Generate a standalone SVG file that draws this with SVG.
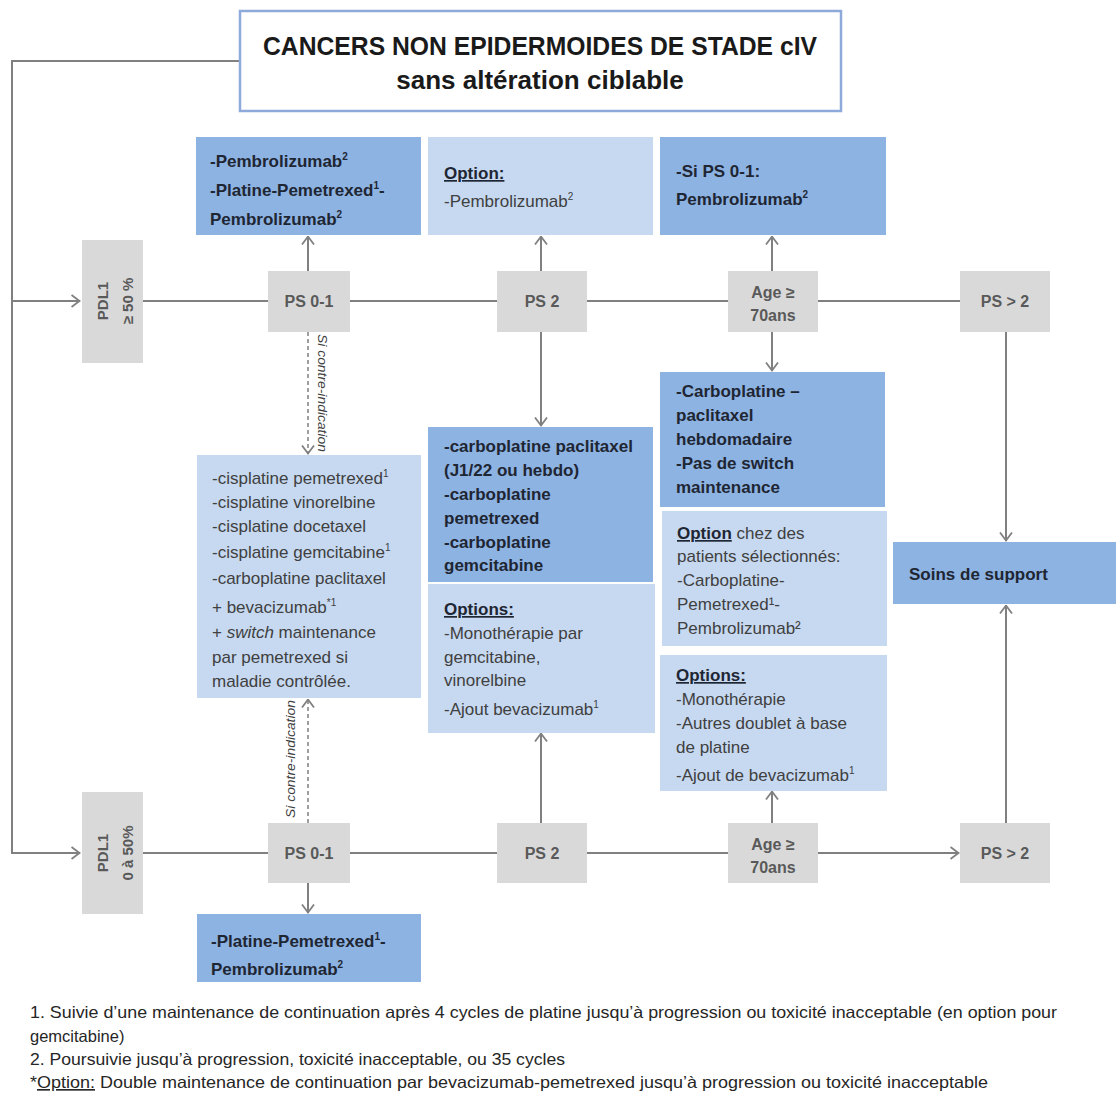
<svg xmlns="http://www.w3.org/2000/svg" width="1116" height="1096" viewBox="0 0 1116 1096">
<style>
text{font-family:"Liberation Sans",Arial,sans-serif}
.gray{fill:#d9d9d9}
.dark{fill:#8db3e2}
.light{fill:#c6d9f1}
.gt{font-weight:bold;font-size:16px;fill:#595959;text-anchor:middle}
.pt{font-weight:bold;font-size:15px;fill:#595959;text-anchor:middle}
.bt{font-weight:bold;font-size:17px;fill:#1f2633}
.rt{font-size:17px;fill:#404040}
.u{text-decoration:underline}
.ln{stroke:#808080;stroke-width:2;fill:none}
.dash{stroke:#808080;stroke-width:1.5;stroke-dasharray:4 3;fill:none}
.lab{font-size:13px;font-style:italic;fill:#404040}
.fn{font-size:16.5px;fill:#262626}
</style>
<defs>
<marker id="ah" viewBox="0 0 10 14" refX="9.5" refY="7" markerWidth="10" markerHeight="14" markerUnits="userSpaceOnUse" orient="auto">
<path d="M1,1 L9,7 L1,13" fill="none" stroke="#808080" stroke-width="1.8"/>
</marker>
</defs>

<g id="connectors">
<path class="ln" d="M240,61 H12 V853 H80" marker-end="url(#ah)"/>
<path class="ln" d="M12,301 H80" marker-end="url(#ah)"/>
<path class="ln" d="M143,301 H268 M350,301 H497 M587,301 H728 M818,301 H960"/>
<path class="ln" d="M143,853 H268 M350,853 H497 M587,853 H728"/>
<path class="ln" d="M818,853 H959" marker-end="url(#ah)"/>
<path class="ln" d="M308,271 V236" marker-end="url(#ah)"/>
<path class="ln" d="M541,271 V236" marker-end="url(#ah)"/>
<path class="ln" d="M772,271 V236" marker-end="url(#ah)"/>
<path class="ln" d="M772,332 V371" marker-end="url(#ah)"/>
<path class="ln" d="M541,332 V426" marker-end="url(#ah)"/>
<path class="dash" d="M308,332 V454" marker-end="url(#ah)"/>
<path class="ln" d="M1006,332 V541" marker-end="url(#ah)"/>
<path class="dash" d="M308,823 V699" marker-end="url(#ah)"/>
<path class="ln" d="M308,883 V913" marker-end="url(#ah)"/>
<path class="ln" d="M541,823 V733" marker-end="url(#ah)"/>
<path class="ln" d="M772,823 V791" marker-end="url(#ah)"/>
<path class="ln" d="M1006,823 V605" marker-end="url(#ah)"/>
<text class="lab" transform="translate(318,334) rotate(90)" textLength="118" lengthAdjust="spacingAndGlyphs">Si contre-indication</text>
<text class="lab" transform="translate(295,818) rotate(-90)" textLength="118" lengthAdjust="spacingAndGlyphs">Si contre-indication</text>
</g>

<g id="title">
<rect x="240" y="11" width="601" height="100" fill="#ffffff" stroke="#8eaadb" stroke-width="2.5"/>
<text x="540" y="55" text-anchor="middle" font-weight="bold" font-size="26" fill="#1a1a1a" textLength="554" lengthAdjust="spacingAndGlyphs">CANCERS NON EPIDERMOIDES DE STADE cIV</text>
<text x="540" y="89" text-anchor="middle" font-weight="bold" font-size="26" fill="#1a1a1a">sans altération ciblable</text>
</g>

<g id="pdl1-high">
<rect class="gray" x="82" y="240" width="61" height="123"/>
<text class="pt" transform="translate(108,301) rotate(-90)">PDL1</text>
<text class="pt" transform="translate(133,301) rotate(-90)">≥ 50 %</text>
</g>
<g id="pdl1-low">
<rect class="gray" x="82" y="792" width="61" height="122"/>
<text class="pt" transform="translate(108,853) rotate(-90)">PDL1</text>
<text class="pt" transform="translate(133,853) rotate(-90)">0 à 50%</text>
</g>

<g id="ps01-high"><rect class="gray" x="268" y="271" width="82" height="61"/><text class="gt" x="309" y="307">PS 0-1</text></g>
<g id="ps2-high"><rect class="gray" x="497" y="271" width="90" height="61"/><text class="gt" x="542" y="307">PS 2</text></g>
<g id="age-high"><rect class="gray" x="728" y="271" width="90" height="61"/><text class="gt" x="773" y="298">Age ≥</text><text class="gt" x="773" y="321">70ans</text></g>
<g id="ps3-high"><rect class="gray" x="960" y="271" width="90" height="61"/><text class="gt" x="1005" y="307">PS &gt; 2</text></g>

<g id="ps01-low"><rect class="gray" x="268" y="823" width="82" height="60"/><text class="gt" x="309" y="859">PS 0-1</text></g>
<g id="ps2-low"><rect class="gray" x="497" y="823" width="90" height="60"/><text class="gt" x="542" y="859">PS 2</text></g>
<g id="age-low"><rect class="gray" x="728" y="823" width="90" height="60"/><text class="gt" x="773" y="850">Age ≥</text><text class="gt" x="773" y="873">70ans</text></g>
<g id="ps3-low"><rect class="gray" x="960" y="823" width="90" height="60"/><text class="gt" x="1005" y="859">PS &gt; 2</text></g>

<g id="box-pembro">
<rect class="dark" x="196" y="137" width="225" height="98"/>
<text class="bt" x="210" y="167">-Pembrolizumab<tspan dy="-7" font-size="10">2</tspan></text>
<text class="bt" x="210" y="196">-Platine-Pemetrexed<tspan dy="-7" font-size="10">1</tspan><tspan dy="7">-</tspan></text>
<text class="bt" x="210" y="225">Pembrolizumab<tspan dy="-7" font-size="10">2</tspan></text>
</g>

<g id="box-option-ps2">
<rect class="light" x="428" y="137" width="225" height="98"/>
<text class="bt u" x="444" y="179">Option:</text>
<text class="rt" x="444" y="207">-Pembrolizumab<tspan dy="-7" font-size="10">2</tspan></text>
</g>

<g id="box-age-pembro">
<rect class="dark" x="660" y="137" width="226" height="98"/>
<text class="bt" x="676" y="177">-Si PS 0-1:</text>
<text class="bt" x="676" y="205">Pembrolizumab<tspan dy="-7" font-size="10">2</tspan></text>
</g>

<g id="box-age-carbo">
<rect class="dark" x="660" y="372" width="225" height="135"/>
<text class="bt" x="676" y="397">-Carboplatine –</text>
<text class="bt" x="676" y="421">paclitaxel</text>
<text class="bt" x="676" y="445">hebdomadaire</text>
<text class="bt" x="676" y="469">-Pas de switch</text>
<text class="bt" x="676" y="493">maintenance</text>
</g>

<g id="box-age-option">
<rect class="light" x="662" y="511" width="225" height="135"/>
<text class="rt" x="677" y="539"><tspan class="u" font-weight="bold" fill="#1f2633">Option</tspan> chez des</text>
<text class="rt" x="677" y="562">patients sélectionnés:</text>
<text class="rt" x="677" y="586">-Carboplatine-</text>
<text class="rt" x="677" y="610">Pemetrexed¹-</text>
<text class="rt" x="677" y="634">Pembrolizumab²</text>
</g>

<g id="box-age-options">
<rect class="light" x="660" y="655" width="227" height="136"/>
<text class="bt u" x="676" y="681">Options:</text>
<text class="rt" x="676" y="705">-Monothérapie</text>
<text class="rt" x="676" y="729">-Autres doublet à base</text>
<text class="rt" x="676" y="753">de platine</text>
<text class="rt" x="676" y="781">-Ajout de bevacizumab<tspan dy="-7" font-size="10">1</tspan></text>
</g>

<g id="box-ps2-carbo">
<rect class="dark" x="428" y="427" width="225" height="155"/>
<text class="bt" x="444" y="452">-carboplatine paclitaxel</text>
<text class="bt" x="444" y="476">(J1/22 ou hebdo)</text>
<text class="bt" x="444" y="500">-carboplatine</text>
<text class="bt" x="444" y="524">pemetrexed</text>
<text class="bt" x="444" y="548">-carboplatine</text>
<text class="bt" x="444" y="571">gemcitabine</text>
</g>

<g id="box-ps2-options">
<rect class="light" x="428" y="584" width="227" height="149"/>
<text class="bt u" x="444" y="615">Options:</text>
<text class="rt" x="444" y="639">-Monothérapie par</text>
<text class="rt" x="444" y="663">gemcitabine,</text>
<text class="rt" x="444" y="686">vinorelbine</text>
<text class="rt" x="444" y="715">-Ajout bevacizumab<tspan dy="-7" font-size="10">1</tspan></text>
</g>

<g id="box-ps01-chemo">
<rect class="light" x="197" y="455" width="224" height="243"/>
<text class="rt" x="212" y="484">-cisplatine pemetrexed<tspan dy="-7" font-size="10">1</tspan></text>
<text class="rt" x="212" y="508">-cisplatine vinorelbine</text>
<text class="rt" x="212" y="532">-cisplatine docetaxel</text>
<text class="rt" x="212" y="558">-cisplatine gemcitabine<tspan dy="-7" font-size="10">1</tspan></text>
<text class="rt" x="212" y="584">-carboplatine paclitaxel</text>
<text class="rt" x="212" y="613">+ bevacizumab<tspan dy="-7" font-size="10">*1</tspan></text>
<text class="rt" x="212" y="638">+ <tspan font-style="italic">switch</tspan> maintenance</text>
<text class="rt" x="212" y="663">par pemetrexed si</text>
<text class="rt" x="212" y="687">maladie contrôlée.</text>
</g>

<g id="box-low-pembro">
<rect class="dark" x="197" y="914" width="224" height="68"/>
<text class="bt" x="211" y="947">-Platine-Pemetrexed<tspan dy="-7" font-size="10">1</tspan><tspan dy="7">-</tspan></text>
<text class="bt" x="211" y="975">Pembrolizumab<tspan dy="-7" font-size="10">2</tspan></text>
</g>

<g id="box-soins">
<rect class="dark" x="893" y="542" width="223" height="62"/>
<text class="bt" x="909" y="580">Soins de support</text>
</g>

<g id="footnotes">
<text class="fn" x="30" y="1018" textLength="1027" lengthAdjust="spacingAndGlyphs">1. Suivie d’une maintenance de continuation après 4 cycles de platine jusqu’à progression ou toxicité inacceptable (en option pour</text>
<text class="fn" x="30" y="1042">gemcitabine)</text>
<text class="fn" x="30" y="1065" textLength="535" lengthAdjust="spacingAndGlyphs">2. Poursuivie jusqu’à progression, toxicité inacceptable, ou 35 cycles</text>
<text class="fn" x="30" y="1088" textLength="958" lengthAdjust="spacingAndGlyphs">*<tspan class="u">Option:</tspan> Double maintenance de continuation par bevacizumab-pemetrexed jusqu’à progression ou toxicité inacceptable</text>
</g>
</svg>
